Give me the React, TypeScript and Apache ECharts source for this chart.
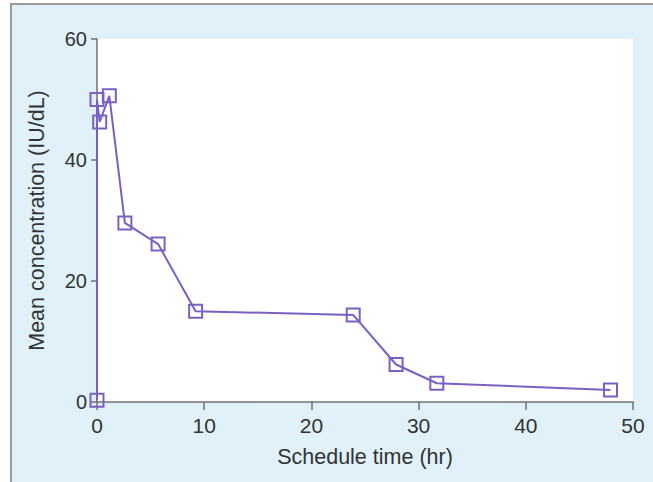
import React, { useEffect, useRef } from "react";
import * as echarts from "echarts";

const timeHr = [0, 0, 0.25, 1.15, 2.6, 5.7, 9.2, 23.9, 27.9, 31.7, 47.9];
const concentration = [0.3, 50, 46.3, 50.6, 29.6, 26.1, 15.0, 14.4, 6.2, 3.1, 2.0];
const xTicks = [0, 10, 20, 30, 40, 50];
const yTicks = [0, 20, 40, 60];

const PURPLE = "#7a60c2";
const AXIS = "#707070";
const TEXT = "#333333";
const FONT = "Liberation Sans, Arial, sans-serif";

export default function App() {
  const ref = useRef<HTMLDivElement>(null);
  useEffect(() => {
    if (!ref.current) return;
    const chart = echarts.init(ref.current, undefined, { renderer: "svg" });
    const data = timeHr.map((t, i) => [t, concentration[i]]);
    chart.setOption({
      animation: false,
      backgroundColor: "#ffffff",
      graphic: [
        {
          type: "rect",
          z: -10,
          shape: { x: 11, y: 4, width: 660, height: 500 },
          style: { fill: "#e0f1fa", stroke: "#9a9a9a", lineWidth: 2 },
        },
      ],
      grid: {
        left: 97,
        top: 39,
        right: 20,
        bottom: 80,
        show: true,
        backgroundColor: "#ffffff",
        borderWidth: 0,
      },
      xAxis: {
        type: "value",
        min: xTicks[0],
        max: xTicks[xTicks.length - 1],
        interval: 10,
        name: "Schedule time (hr)",
        nameLocation: "middle",
        nameGap: 44,
        nameTextStyle: { fontSize: 21.5, color: TEXT, fontFamily: FONT },
        axisLine: { show: true, onZero: false, lineStyle: { color: AXIS, width: 1.5 } },
        axisTick: { show: true, length: 8, lineStyle: { color: AXIS, width: 1.5 } },
        axisLabel: { fontSize: 21, color: TEXT, margin: 13, fontFamily: FONT },
        splitLine: { show: false },
      },
      yAxis: {
        type: "value",
        min: yTicks[0],
        max: yTicks[yTicks.length - 1],
        interval: 20,
        name: "Mean concentration (IU/dL)",
        nameLocation: "middle",
        nameGap: 49,
        nameTextStyle: { fontSize: 21.5, color: TEXT, fontFamily: FONT },
        axisLine: { show: true, onZero: false, lineStyle: { color: AXIS, width: 1.5 } },
        axisTick: { show: true, length: 6, lineStyle: { color: AXIS, width: 1.5 } },
        axisLabel: { fontSize: 20, color: TEXT, margin: 10, fontFamily: FONT },
        splitLine: { show: false },
      },
      series: [
        {
          type: "line",
          data,
          symbol: "rect",
          symbolSize: 13,
          showAllSymbol: true,
          lineStyle: { color: PURPLE, width: 2 },
          itemStyle: { color: "rgba(255,255,255,0)", borderColor: PURPLE, borderWidth: 2 },
          emphasis: { disabled: true },
          z: 3,
        },
      ],
    });
    return () => chart.dispose();
  }, []);
  return (
    <div
      ref={ref}
      style={{ position: "absolute", left: 0, top: 0, width: 653, height: 482 }}
    />
  );
}
